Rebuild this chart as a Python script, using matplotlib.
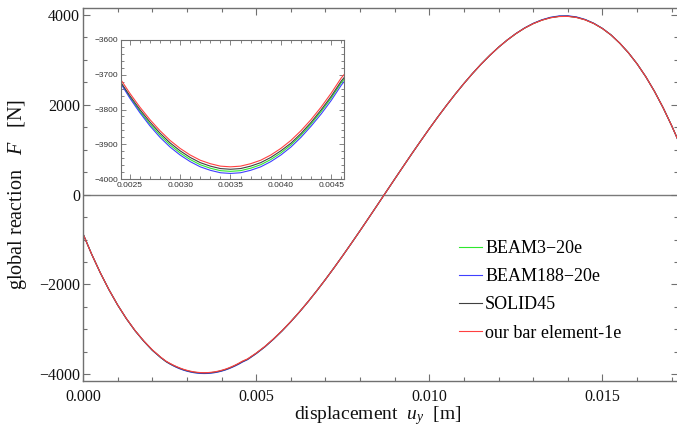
import matplotlib
matplotlib.use("Agg")
import matplotlib.pyplot as plt
from matplotlib.ticker import MultipleLocator, FuncFormatter

plt.rcParams['font.family'] = ['Liberation Serif', 'DejaVu Serif']
plt.rcParams['mathtext.fontset'] = 'custom'
plt.rcParams['mathtext.rm'] = 'Liberation Serif'
plt.rcParams['mathtext.it'] = 'Liberation Serif:italic'

# displacement samples [m] (denser around the minimum for the zoomed view)
u_y = [0.0, 0.00025, 0.0005, 0.00075, 0.001, 0.00125, 0.0015, 0.00175, 0.002, 0.00225,
       0.0024, 0.0025, 0.0026, 0.0027, 0.0028, 0.0029, 0.0030, 0.0031,
       0.0032, 0.0033, 0.0034, 0.0035, 0.0036, 0.0037, 0.0038, 0.0039,
       0.0040, 0.0041, 0.0042, 0.0043, 0.0044, 0.0045, 0.0046,
       0.00475, 0.005, 0.00525, 0.0055, 0.00575, 0.006, 0.00625, 0.0065, 0.00675, 0.007,
       0.00725, 0.0075, 0.00775, 0.008, 0.00825, 0.0085, 0.00875, 0.009, 0.00925, 0.0095,
       0.00975, 0.010, 0.01025, 0.0105, 0.01075, 0.011, 0.01125, 0.0115, 0.01175, 0.012,
       0.01225, 0.0125, 0.01275, 0.013, 0.01325, 0.0135, 0.01375, 0.014, 0.01425, 0.0145,
       0.01475, 0.015, 0.01525, 0.0155, 0.01575, 0.016, 0.01625, 0.0165, 0.01675, 0.017,
       0.01718]

# global reaction F [N] for each model
F_beam3 = [-872, -1327, -1742, -2118, -2458, -2760, -3027, -3259, -3464, -3631,
           -3718, -3764, -3805, -3842, -3874, -3902, -3925, -3944,
           -3959, -3969, -3976, -3978, -3976, -3969, -3959, -3944,
           -3925, -3902, -3874, -3842, -3806, -3767, -3723,
           -3670, -3538, -3389, -3218, -3031, -2829, -2613, -2383, -2142, -1889,
           -1628, -1359, -1083, -803, -518, -231, 58, 346, 632, 916,
           1194, 1468, 1734, 1991, 2239, 2475, 2699, 2909, 3103, 3282,
           3442, 3584, 3708, 3809, 3887, 3942, 3971, 3974, 3949, 3895,
           3811, 3698, 3553, 3370, 3157, 2910, 2625, 2300, 1935, 1530,
           1215]
F_beam188 = [-872, -1327, -1742, -2118, -2458, -2760, -3028, -3260, -3466, -3633,
             -3720, -3767, -3809, -3847, -3880, -3908, -3931, -3950,
             -3965, -3975, -3982, -3984, -3982, -3975, -3965, -3950,
             -3931, -3908, -3880, -3848, -3813, -3774, -3730,
             -3675, -3542, -3392, -3221, -3034, -2831, -2614, -2384, -2142, -1890,
             -1628, -1359, -1083, -803, -518, -231, 58, 346, 632, 916,
             1194, 1468, 1734, 1991, 2239, 2475, 2699, 2909, 3103, 3282,
             3442, 3587, 3711, 3814, 3893, 3949, 3979, 3982, 3956, 3900,
             3815, 3700, 3554, 3371, 3157, 2910, 2625, 2300, 1935, 1530,
             1215]
F_solid45 = [-872, -1327, -1742, -2118, -2457, -2759, -3026, -3257, -3461, -3629,
             -3717, -3760, -3800, -3836, -3868, -3896, -3919, -3938,
             -3953, -3963, -3970, -3972, -3970, -3963, -3953, -3938,
             -3919, -3897, -3869, -3837, -3801, -3762, -3718,
             -3666, -3534, -3386, -3216, -3030, -2828, -2612, -2383, -2141, -1889,
             -1628, -1359, -1083, -803, -518, -231, 58, 346, 632, 916,
             1194, 1468, 1734, 1991, 2239, 2475, 2699, 2909, 3103, 3282,
             3442, 3584, 3707, 3808, 3886, 3940, 3969, 3972, 3947, 3893,
             3810, 3697, 3552, 3370, 3157, 2910, 2625, 2300, 1935, 1530,
             1215]
F_bar = [-872, -1327, -1741, -2117, -2456, -2757, -3023, -3253, -3455, -3622,
         -3709, -3753, -3793, -3829, -3861, -3889, -3912, -3931,
         -3946, -3956, -3963, -3965, -3963, -3956, -3946, -3931,
         -3912, -3889, -3861, -3829, -3793, -3753, -3709,
         -3658, -3528, -3381, -3212, -3027, -2826, -2611, -2382, -2141, -1889,
         -1628, -1359, -1083, -803, -518, -231, 58, 346, 632, 916,
         1194, 1468, 1734, 1991, 2239, 2475, 2699, 2909, 3103, 3282,
         3442, 3584, 3706, 3806, 3883, 3937, 3965, 3968, 3943, 3890,
         3808, 3696, 3552, 3370, 3157, 2910, 2625, 2300, 1935, 1530,
         1215]

series_labels = ["BEAM3\u221220e", "BEAM188\u221220e", "SOLID45", "our bar element-1e"]
series_data = [F_beam3, F_beam188, F_solid45, F_bar]
series_colors = ["#2ee82e", "#4040ff", "#404040", "#ff4040"]

main_xticks = [0.0, 0.005, 0.010, 0.015]
main_yticks = [-4000, -2000, 0, 2000, 4000]
inset_xticks = [0.0025, 0.0030, 0.0035, 0.0040, 0.0045]
inset_yticks = [-4000, -3900, -3800, -3700, -3600]

W, H = 677, 430
frame = "#707070"
fig = plt.figure(figsize=(W / 100, H / 100), dpi=100)

# ---- main plot ----
ax = fig.add_axes([83 / W, (H - 381) / H, (678 - 83) / W, (381 - 8) / H])
lines = []
for data, lab, col in zip(series_data, series_labels, series_colors):
    ln, = ax.plot(u_y, data, color=col, lw=0.8, label=lab)
    lines.append(ln)
ax.axhline(0, color="#7a7a7a", lw=1.0, zorder=0.5)
ax.set_xlim(0, 0.01718)
ax.set_ylim(-4150, 4155)
ax.set_xticks(main_xticks)
ax.set_yticks(main_yticks)
ax.xaxis.set_minor_locator(MultipleLocator(0.001))
ax.yaxis.set_minor_locator(MultipleLocator(500))
ax.xaxis.set_major_formatter(FuncFormatter(lambda v, p: f"{v:.3f}"))
ax.yaxis.set_major_formatter(FuncFormatter(lambda v, p: f"{int(round(v))}".replace("-", "\u2212")))
ax.tick_params(which="both", direction="in", top=True, right=True, colors=frame,
               labelcolor="#111111", labelsize=11.5, width=0.8)
ax.tick_params(which="major", length=5)
ax.tick_params(which="minor", length=3)
ax.tick_params(axis="x", pad=6)
ax.tick_params(axis="y", pad=2)
for sp in ax.spines.values():
    sp.set_color(frame)
    sp.set_linewidth(1.0)
ax.set_xlabel("displacement  $u_y$  [m]", fontsize=14, color="#111111")
ax.set_ylabel("global reaction   $F$   [N]", fontsize=14.5, color="#111111")
ax.xaxis.set_label_coords((378 - 83) / (678 - 83), -(404.5 - 381) / (381 - 8))
ax.yaxis.set_label_coords(-(83 - 29) / (678 - 83), (381 - 194) / (381 - 8))

ax.legend(handles=lines, loc="upper left", bbox_to_anchor=(459 / W, 1 - 240 / H),
          bbox_transform=fig.transFigure, frameon=False, fontsize=13,
          handlelength=1.25, handletextpad=0.2, labelspacing=0.62,
          borderpad=0, borderaxespad=0)

# ---- zoomed view around the minimum ----
axi = fig.add_axes([120.7 / W, (H - 179) / H, (344.3 - 120.7) / W, (179 - 40) / H])
for data, col in zip(series_data, series_colors):
    axi.plot(u_y, data, color=col, lw=0.8)
axi.set_xlim(0.00241, 0.00463)
axi.set_ylim(-4000, -3600)
axi.set_xticks(inset_xticks)
axi.set_yticks(inset_yticks)
axi.xaxis.set_minor_locator(MultipleLocator(0.0001))
axi.yaxis.set_minor_locator(MultipleLocator(20))
axi.xaxis.set_major_formatter(FuncFormatter(lambda v, p: f"{v:.4f}"))
axi.yaxis.set_major_formatter(FuncFormatter(lambda v, p: f"{int(round(v))}".replace("-", "\u2212")))
axi.tick_params(which="both", direction="in", top=True, right=True, colors=frame,
                labelcolor="#333333", labelsize=6, width=0.6, pad=2)
axi.tick_params(which="major", length=3.5)
axi.tick_params(which="minor", length=2)
for lab in axi.get_xticklabels() + axi.get_yticklabels():
    lab.set_family(["Liberation Sans", "DejaVu Sans"])
for sp in axi.spines.values():
    sp.set_color(frame)
    sp.set_linewidth(0.8)

fig.savefig("out.png", dpi=100)
